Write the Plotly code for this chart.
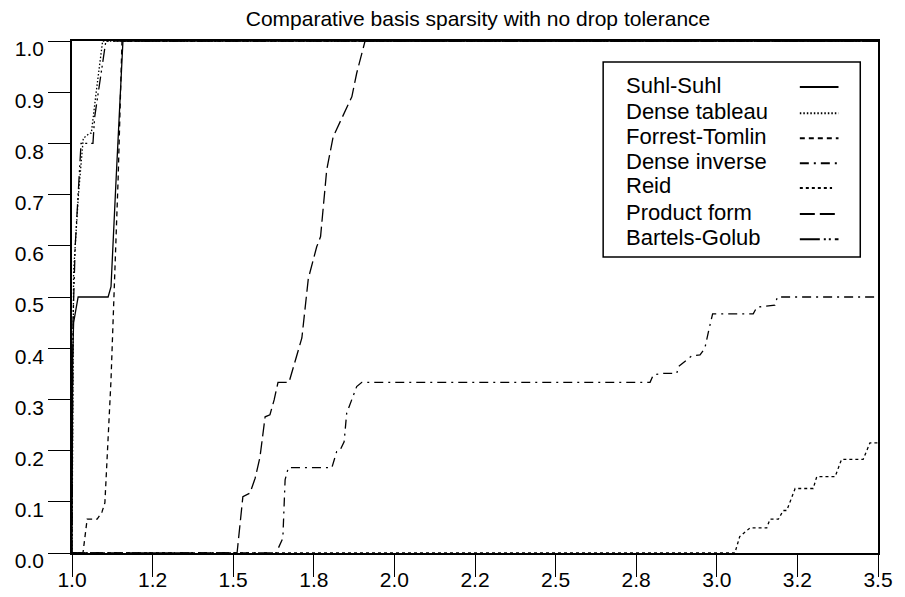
import plotly.graph_objects as go

# ---- data ----
x_tick_vals = [1.0, 1.25, 1.5, 1.75, 2.0, 2.25, 2.5, 2.75, 3.0, 3.25, 3.5]
x_tick_text = ["1.0", "1.2", "1.5", "1.8", "2.0", "2.2", "2.5", "2.8", "3.0", "3.2", "3.5"]
y_tick_vals = [0.0, 0.1, 0.2, 0.3, 0.4, 0.5, 0.6, 0.7, 0.8, 0.9, 1.0]
y_tick_text = ["0.0", "0.1", "0.2", "0.3", "0.4", "0.5", "0.6", "0.7", "0.8", "0.9", "1.0"]

suhl_x = [1.0, 1.002, 1.005, 1.019, 1.112, 1.121, 1.136, 1.158, 3.5]
suhl_y = [0.0, 0.38, 0.45, 0.5, 0.5, 0.52, 0.72, 1.0, 1.0]

dense_tab_x = [1.0, 1.005, 1.02, 1.035, 1.055, 1.06, 1.075, 1.095, 3.5]
dense_tab_y = [0.0, 0.55, 0.7, 0.81, 0.82, 0.82, 0.9, 1.0, 1.0]

forrest_x = [1.0, 1.034, 1.047, 1.078, 1.093, 1.102, 1.121, 1.143, 1.155, 3.5]
forrest_y = [0.0, 0.0, 0.066, 0.066, 0.08, 0.098, 0.338, 0.729, 1.0, 1.0]

dense_inv_x = [1.0, 1.633, 1.654, 1.661, 1.671, 1.806, 1.821, 1.831, 1.844, 1.852, 1.883, 1.899,
               2.793, 2.803, 2.834, 2.876, 2.881, 2.922, 2.948, 2.963, 2.974, 2.984, 2.987,
               3.113, 3.124, 3.180, 3.188, 3.5]
dense_inv_y = [0.0, 0.0, 0.029, 0.143, 0.1667, 0.1667, 0.198, 0.2, 0.217, 0.273, 0.325, 0.3333,
               0.3333, 0.348, 0.351, 0.351, 0.364, 0.385, 0.387, 0.4, 0.432, 0.455, 0.467,
               0.467, 0.48, 0.484, 0.5, 0.5]

reid_x = [1.0, 3.056, 3.071, 3.103, 3.155, 3.165, 3.191, 3.206, 3.217, 3.243, 3.299, 3.310,
          3.367, 3.387, 3.454, 3.475, 3.5]
reid_y = [0.0, 0.0, 0.032, 0.049, 0.049, 0.066, 0.066, 0.083, 0.083, 0.126, 0.126, 0.149,
          0.149, 0.183, 0.183, 0.215, 0.215]

product_x = [1.0, 1.512, 1.530, 1.552, 1.568, 1.583, 1.599, 1.614, 1.627, 1.639, 1.673, 1.692,
             1.713, 1.733, 1.759, 1.771, 1.790, 1.810, 1.868, 1.883, 1.909, 3.5]
product_y = [0.0, 0.0, 0.11, 0.117, 0.146, 0.187, 0.266, 0.27, 0.299, 0.3333, 0.3333, 0.377,
             0.42, 0.536, 0.598, 0.618, 0.748, 0.813, 0.891, 0.937, 1.0, 1.0]

bartels_x = [1.0, 1.003, 1.01, 1.028, 1.035, 1.065, 1.07, 1.1, 1.105, 3.5]
bartels_y = [0.0, 0.45, 0.6, 0.8, 0.8, 0.8, 0.85, 0.98, 1.0, 1.0]

series_names = ["Suhl-Suhl", "Dense tableau", "Forrest-Tomlin", "Dense inverse",
                "Reid", "Product form", "Bartels-Golub"]
series_x = [suhl_x, dense_tab_x, forrest_x, dense_inv_x, reid_x, product_x, bartels_x]
series_y = [suhl_y, dense_tab_y, forrest_y, dense_inv_y, reid_y, product_y, bartels_y]

# ---- styles ----
dashes = ["solid", "1.5px,2px", "5px,4px", "9px,5px,2px,5px", "3px,3px", "13px,5px",
          "13px,4px,2px,3px,2px,4px"]
legend_dashes = ["solid", "1.5px,2px", "5px,4px", "9px,5px,2px,5px", "3px,3px", "15px,5px",
                 "20px,4px,2px,3px,2px,4px"]
legend_len = [0.048, 0.048, 0.048, 0.048, 0.04, 0.048, 0.048]

FONT = "Liberation Sans, Arial, sans-serif"

# The page body has an 8px margin; size the figure so the plot area lands where the
# reference has it (x 72..878, y 41..553 in the 905x597 window).
W, H = 897, 589

fig = go.Figure()
for name, xs, ys, d in zip(series_names, series_x, series_y, dashes):
    fig.add_trace(go.Scatter(x=xs, y=ys, mode="lines", name=name, showlegend=False,
                             line=dict(color="black", width=1.3, dash=d)))

# manual legend (text left, sample right) like the reference
row_y = [0.914, 0.863, 0.814, 0.765, 0.717, 0.666, 0.617]
shapes = [dict(type="rect", xref="paper", yref="paper", x0=0.659, x1=0.978, y0=0.578, y1=0.959,
               line=dict(color="black", width=1.5), fillcolor="white", layer="above")]
annotations = []
for name, yy, d, ln in zip(series_names, row_y, legend_dashes, legend_len):
    annotations.append(dict(x=0.6849, y=yy, xref="paper", yref="paper", text=name,
                            showarrow=False, xanchor="left", yanchor="middle",
                            font=dict(family=FONT, size=22, color="black")))
    shapes.append(dict(type="line", xref="paper", yref="paper", x0=0.903, x1=0.903 + ln,
                       y0=yy - 0.004, y1=yy - 0.004,
                       line=dict(color="black", width=2, dash=d), layer="above"))

fig.update_layout(
    width=W, height=H,
    margin=dict(l=64, r=27, t=33, b=44, autoexpand=False),
    paper_bgcolor="white", plot_bgcolor="white",
    title=dict(text="Comparative basis sparsity with no drop tolerance",
               x=(478 - 8) / W, xanchor="center", y=1 - (19 - 8) / H, yanchor="middle",
               yref="container", font=dict(family=FONT, size=21, color="black")),
    font=dict(family=FONT, color="black"),
    shapes=shapes, annotations=annotations,
)
fig.update_xaxes(range=[1.0, 3.5], tickvals=x_tick_vals, ticktext=x_tick_text,
                 showgrid=False, zeroline=False, showline=True, mirror=True,
                 linecolor="black", linewidth=1.5, ticks="outside", ticklen=22,
                 tickcolor="black", tickwidth=1.2, ticklabelstandoff=-15, automargin=False,
                 tickfont=dict(family=FONT, size=21, color="black"))
fig.update_yaxes(range=[0.0, 1.0], tickvals=y_tick_vals, ticktext=y_tick_text,
                 showgrid=False, zeroline=False, showline=True, mirror=True,
                 linecolor="black", linewidth=1.5, ticks="outside", ticklen=22,
                 tickcolor="black", tickwidth=1.2, ticklabelshift=8, ticklabelstandoff=0,
                 automargin=False,
                 tickfont=dict(family=FONT, size=21, color="black"))

fig.write_html("out.html")
